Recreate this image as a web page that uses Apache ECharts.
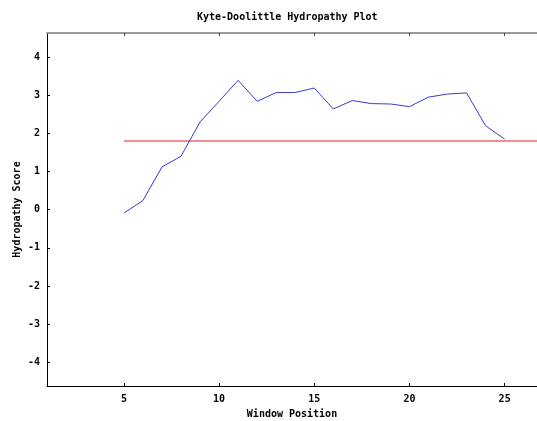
<!DOCTYPE html>
<html>
<head>
<meta charset="utf-8">
<script src="https://cdn.jsdelivr.net/npm/echarts@6/dist/echarts.min.js"></script>
<style>
  html, body { margin: 0; padding: 0; background: #fff; }
  #chart { width: 537px; height: 421px; }
</style>
</head>
<body>
<div id="chart"></div>
<script>
// window positions and their Kyte-Doolittle scores
const windowPos = [5, 6, 7, 8, 9, 10, 11, 12, 13, 14, 15, 16, 17, 18, 19, 20, 21, 22, 23, 24, 25];
const scores = [-0.09, 0.24, 1.12, 1.40, 2.30, 2.84, 3.39, 2.84, 3.07, 3.07, 3.19,
                2.64, 2.86, 2.78, 2.77, 2.70, 2.95, 3.03, 3.06, 2.20, 1.85];
const threshold = 1.8;
const xTicks = [5, 10, 15, 20, 25];
const yTicks = [-4, -3, -2, -1, 0, 1, 2, 3, 4];

const xMin = 0.96, xMax = 26.7;
const yMin = -4.62, yMax = 4.63;

const font = 'DejaVu Sans Mono';
const labelStyle = { fontFamily: font, fontWeight: 'bold', fontSize: 10, color: '#000' };

const chart = echarts.init(document.getElementById('chart'));

chart.setOption({
  animation: false,
  title: {
    text: 'Kyte-Doolittle Hydropathy Plot',
    left: 192,
    top: 7,
    textStyle: { fontFamily: font, fontWeight: 'bold', fontSize: 10, color: '#000' }
  },
  grid: { left: 47, right: 0, top: 33, bottom: 35, outerBoundsMode: 'none' },
  xAxis: [
    {
      type: 'value', min: xMin, max: xMax,
      name: 'Window Position', nameLocation: 'middle', nameGap: 23,
      nameMoveOverlap: false,
      nameTextStyle: labelStyle,
      axisLine: { onZero: false, lineStyle: { color: '#000', width: 1 } },
      axisTick: { inside: true, length: 3, customValues: xTicks, lineStyle: { color: '#000' } },
      axisLabel: Object.assign({ customValues: xTicks, margin: 8 }, labelStyle),
      splitLine: { show: false }
    },
    {
      type: 'value', min: xMin, max: xMax, position: 'top',
      axisLine: { onZero: false, lineStyle: { color: '#999', width: 2 } },
      axisTick: { inside: true, length: 3, customValues: xTicks, lineStyle: { color: '#444' } },
      axisLabel: { show: false },
      splitLine: { show: false }
    }
  ],
  yAxis: {
    type: 'value', min: yMin, max: yMax,
    name: 'Hydropathy Score', nameLocation: 'middle', nameGap: 25,
    nameMoveOverlap: false,
    nameTextStyle: labelStyle,
    axisLine: { show: true, onZero: false, lineStyle: { color: '#000', width: 1 } },
    axisTick: { show: true, inside: true, length: 3, customValues: yTicks, lineStyle: { color: '#000' } },
    axisLabel: Object.assign({ customValues: yTicks, margin: 7 }, labelStyle),
    splitLine: { show: false }
  },
  series: [
    {
      type: 'line',
      data: [[windowPos[0], threshold], [xMax, threshold]],
      symbol: 'none',
      lineStyle: { color: '#dd2222', width: 1 },
      silent: true
    },
    {
      type: 'line',
      data: windowPos.map((x, i) => [x, scores[i]]),
      symbol: 'none',
      lineStyle: { color: '#3a3ad0', width: 1 }
    }
  ]
});
</script>
</body>
</html>
